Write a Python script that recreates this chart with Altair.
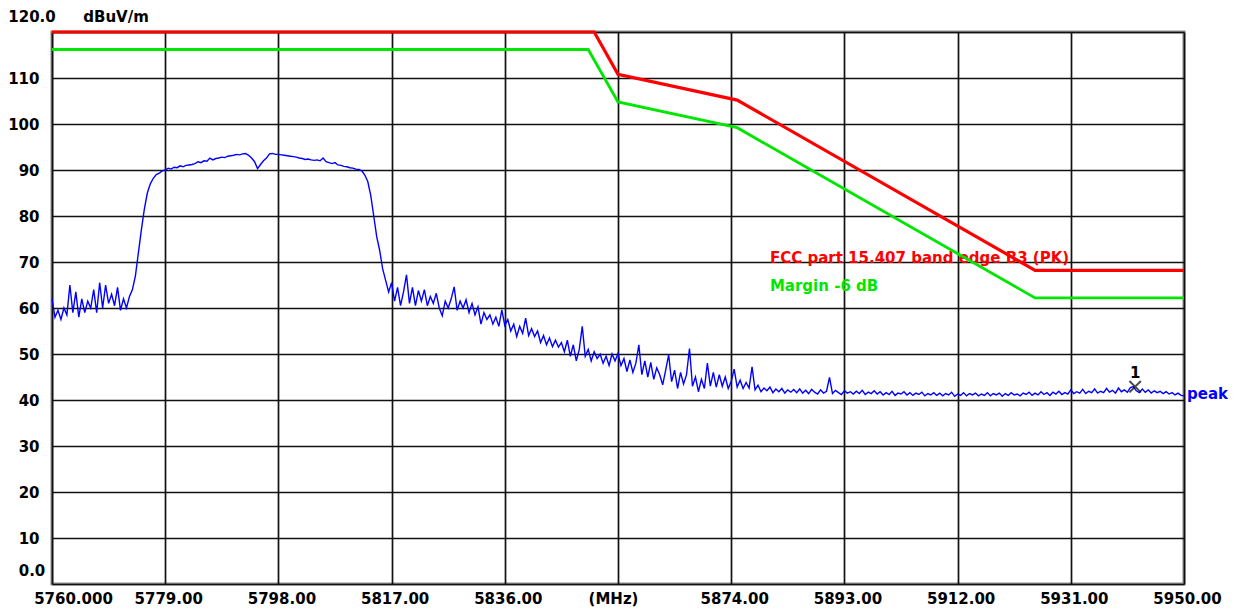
import altair as alt
import numpy as np
import pandas as pd

# ---------------- data ----------------
# measured trace (dBuV/m), one sweep point every 0.5 MHz from 5760 to 5950 MHz
trace_noise_low = [62, 58, 59.5, 57.5, 60, 58.5, 65, 59, 63.5, 58, 62, 59, 61.5, 60,
                   64, 59, 65.5, 60, 65, 61, 63, 60.5, 64.5, 59.5, 62, 60, 62.5]
trace_rise = [64, 67, 72, 77, 81.5, 85, 87, 88.2, 89, 89.3, 89.8]
trace_top = [90.0, 90.4, 90.2, 90.6, 90.5, 90.9, 90.7, 91.0, 91.1, 91.2,
             91.4, 91.8, 91.6, 92.0, 91.9, 92.6, 92.2, 92.5, 92.6, 92.8,
             92.7, 93.0, 93.1, 93.2, 93.4, 93.3, 93.5, 93.6, 93.2, 92.6,
             91.8, 90.3, 91.2, 92.0, 92.6, 93.5, 93.6, 93.4, 93.4, 93.3,
             93.2, 93.1, 93.0, 92.9, 92.8, 92.6, 92.5, 92.3, 92.4, 92.2,
             92.1, 92.2, 92.0, 92.6, 91.8, 91.6, 91.4, 91.6, 91.1, 91.0,
             90.8, 90.7, 90.5, 90.4, 90.2, 90.1, 89.8, 88.9, 87.5, 84.5,
             80.0, 75.5, 72.5, 68.5, 66.0, 63.5]
trace_skirt = [65.5, 61.5, 64.5, 60.5, 63.5, 67.2, 61, 64.5, 60.5, 63.8,
               61.5, 64, 60.5, 62.5, 61, 63.2, 60, 58.3, 61.5, 60,
               62, 64.6, 59.5, 61.5, 60, 61.8, 59, 61, 58.5, 60.3,
               56.5, 59, 57.5, 58.5, 56.5, 58, 56, 59.6, 56.2, 57.5,
               55, 56.5, 53.8, 56, 54.5, 57.8, 54, 55.5, 53.8, 55,
               52.5, 54, 52, 53.5, 51.6, 53, 51.5, 52.5, 50.5, 53,
               49.5, 52, 48.5, 51, 56, 49.5, 51, 48.5, 50.5, 49,
               50, 48, 49.5, 47.5, 50, 48.5]
trace_tail = [50.1, 47.5, 49, 46.2, 48.7, 46, 48, 52, 45.5, 48.5,
              45, 48.2, 44.5, 47, 45.5, 43.3, 46.5, 49.8, 44, 46.5,
              42.5, 46, 43.5, 45.5, 51.2, 43, 45, 41.8, 44.5, 42.5,
              48, 43, 46, 42.8, 45.5, 43, 45, 42.5, 44, 46.7,
              42.8, 44.3, 42.5, 43.8, 42.6, 47.2, 42.2, 43.2, 41.8, 42.6,
              42, 42.8, 41.6, 42.4, 41.8, 42.5, 41.5, 42.2, 41.7, 42.3]
trace_floor = [41.6, 42.4, 41.5, 42.1, 41.4, 42.3, 41.7, 41.3, 42.2, 41.5,
               41.9, 44.9, 41.4, 42.1, 41.6, 41.2, 42.0, 41.5, 41.8, 41.3,
               41.9, 41.4, 42.1, 41.2, 41.7, 41.4, 42.0, 41.3, 41.8, 41.1,
               41.6, 41.2, 41.9, 41.0, 41.5, 41.3, 41.8, 41.1, 41.6, 41.0,
               41.5, 41.2, 41.7, 40.9, 41.4, 41.1, 41.6, 41.0, 41.5, 40.9,
               41.4, 41.1, 41.7, 40.8, 41.3, 41.0, 41.6, 40.9, 41.4, 41.1,
               41.5, 40.9, 41.3, 41.0, 41.6, 40.9, 41.4, 41.1, 41.5, 40.8,
               41.4, 41.0, 41.6, 41.1, 41.3, 40.9, 41.5, 41.2, 41.7, 41.0,
               41.5, 41.1, 41.8, 41.2, 41.6, 41.0, 41.7, 41.3, 41.9, 41.2,
               41.6, 41.3, 42.2, 41.4, 41.8, 41.5, 42.3, 41.4, 41.9, 41.6,
               42.4, 41.5, 41.9, 41.6, 42.5, 41.7, 42.1, 41.5, 42.6, 41.8,
               42.2, 41.7, 42.7, 42.9, 42.0, 41.6, 42.4, 41.7, 42.2, 41.5,
               42.0, 41.6, 41.9, 41.4, 41.8, 41.3, 41.6, 41.1, 41.5, 41.0,
               40.9]
trace_levels = trace_noise_low + trace_rise + trace_top + trace_skirt + trace_tail + trace_floor
sweep_start, sweep_stop, sweep_step = 5760.0, 5950.0, 0.5
trace_freqs = list(np.arange(sweep_start, sweep_stop + sweep_step / 2, sweep_step))
assert len(trace_freqs) == len(trace_levels)

# limit line (clipped at the 120 dB top of the display) and margin line
limit_freqs = [5760, 5851, 5855, 5875, 5925, 5950]
limit_levels = [120, 120, 110.8, 105.2, 68.2, 68.2]
margin_freqs = [5760, 5850, 5855, 5875, 5925, 5950]
margin_levels = [116.2, 116.2, 104.8, 99.2, 62.2, 62.2]

# marker 1
marker_freq = [5941.8]
marker_level = [42.9]
marker_label = ["1"]

# axis ticks
x_tick_values = [5760, 5779, 5798, 5817, 5836, 5855, 5874, 5893, 5912, 5931, 5950]
x_tick_texts = ["5760.000", "5779.00", "5798.00", "5817.00", "5836.00", "(MHz)",
                "5874.00", "5893.00", "5912.00", "5931.00", "5950.00"]
y_tick_values = [0, 10, 20, 30, 40, 50, 60, 70, 80, 90, 100, 110, 120]
y_tick_texts = ["0.0", "10", "20", "30", "40", "50", "60", "70", "80", "90", "100", "110", "120.0"]

unit_text = "dBuV/m"
legend_texts = ["FCC part 15.407 band edge B3 (PK)", "Margin -6 dB"]
legend_anchor = [(5880.5, 70.9), (5880.5, 64.7)]
trace_name = "peak"

# ---------------- chart ----------------
FONT = "DejaVu Sans"
RED, GREEN, BLUE = "#ff0000", "#00e600", "#0000ff"

xscale = alt.Scale(domain=[sweep_start, sweep_stop], nice=False, zero=False)
yscale = alt.Scale(domain=[0, 120], nice=False, zero=False)

x_label_expr = " : ".join(
    f"datum.value == {v} ? '{t}'" for v, t in zip(x_tick_values, x_tick_texts)
) + " : ''"
# inner y labels only; the corner labels are placed as text below
y_label_expr = " : ".join(
    f"datum.value == {v} ? '{t}'" for v, t in zip(y_tick_values[1:-1], y_tick_texts[1:-1])
) + " : ''"

x_axis = alt.Axis(
    values=x_tick_values, labelExpr=x_label_expr, grid=True, gridColor="#111111",
    gridWidth=1.7, ticks=False, domain=False, title=None, labelFont=FONT,
    labelFontSize=15, labelFontWeight="bold", labelColor="#000000", labelPadding=7,
    labelOverlap=False, labelFlush=False, labelBound=False,
    labelOffset={"condition": [{"test": "datum.value == 5760", "value": 21},
                               {"test": "datum.value == 5855", "value": -5}],
                 "value": 3},
)
y_axis = alt.Axis(
    values=y_tick_values, labelExpr=y_label_expr, grid=True, gridColor="#111111",
    gridWidth=1.7, ticks=False, domain=False, title=None, labelFont=FONT,
    labelFontSize=15, labelFontWeight="bold", labelColor="#000000", labelPadding=13,
    labelOverlap=False, labelBound=False,
)


def xq():
    return alt.X("f:Q", scale=xscale, axis=x_axis)


def yq():
    return alt.Y("v:Q", scale=yscale, axis=y_axis)


trace_df = pd.DataFrame({"f": trace_freqs, "v": trace_levels})
limit_df = pd.DataFrame({"f": limit_freqs, "v": limit_levels})
margin_df = pd.DataFrame({"f": margin_freqs, "v": margin_levels})

trace = alt.Chart(trace_df).mark_line(color=BLUE, strokeWidth=1.4).encode(
    x=xq(), y=yq(), order="f:Q")
margin = alt.Chart(margin_df).mark_line(color=GREEN, strokeWidth=2.8).encode(x=xq(), y=yq(), order="f:Q")
limit = alt.Chart(limit_df).mark_line(color=RED, strokeWidth=3.2).encode(x=xq(), y=yq(), order="f:Q")

legend_df = pd.DataFrame({"f": [a[0] for a in legend_anchor], "v": [a[1] for a in legend_anchor],
                          "t": legend_texts, "c": [RED, GREEN]})
legend = alt.Chart(legend_df).mark_text(
    align="left", baseline="middle", font=FONT, fontSize=15, fontWeight="bold"
).encode(x=xq(), y=yq(), text="t:N", color=alt.Color("c:N", scale=None))

marker_df = pd.DataFrame({"f": marker_freq, "v": marker_level, "t": marker_label})
marker = alt.Chart(marker_df).mark_point(
    shape="M-1,-1L1,1M-1,1L1,-1", size=130, stroke="#000000", strokeWidth=2, filled=False
).encode(x=xq(), y=yq())
marker_txt = alt.Chart(marker_df).mark_text(
    dy=-14, font=FONT, fontSize=15, fontWeight="bold", color="#000000", baseline="middle"
).encode(x=xq(), y=yq(), text="t:N")

peak_df = pd.DataFrame({"f": [sweep_stop], "v": [41.2], "t": [trace_name]})
peak = alt.Chart(peak_df).mark_text(
    align="left", baseline="middle", dx=3, font=FONT, fontSize=15, fontWeight="bold", color=BLUE
).encode(x=xq(), y=yq(), text="t:N")

top_df = pd.DataFrame({"f": [sweep_start], "v": [120], "t": [y_tick_texts[-1]]})
top_lbl = alt.Chart(top_df).mark_text(
    align="center", baseline="middle", dx=-20, dy=-15, font=FONT, fontSize=15,
    fontWeight="bold", color="#000000"
).encode(x=xq(), y=yq(), text="t:N")
unit_df = pd.DataFrame({"f": [sweep_start], "v": [120], "t": [unit_text]})
unit_lbl = alt.Chart(unit_df).mark_text(
    align="center", baseline="middle", dx=64, dy=-15, font=FONT, fontSize=15,
    fontWeight="bold", color="#000000"
).encode(x=xq(), y=yq(), text="t:N")
bot_df = pd.DataFrame({"f": [sweep_start], "v": [0], "t": [y_tick_texts[0]]})
bot_lbl = alt.Chart(bot_df).mark_text(
    align="center", baseline="middle", dx=-20, dy=-13, font=FONT, fontSize=15,
    fontWeight="bold", color="#000000"
).encode(x=xq(), y=yq(), text="t:N")

chart = alt.layer(
    legend, trace, margin, limit, marker, marker_txt, peak, top_lbl, unit_lbl, bot_lbl
).properties(
    width=1132, height=552,
    autosize=alt.AutoSizeParams(type="none"),
    padding={"left": 44, "top": 24, "right": 44, "bottom": 23},
    background="#ffffff",
).configure_view(stroke="#8c8c8c", strokeWidth=3)

chart.save("out.html", embed_options={"renderer": "svg", "actions": False})
